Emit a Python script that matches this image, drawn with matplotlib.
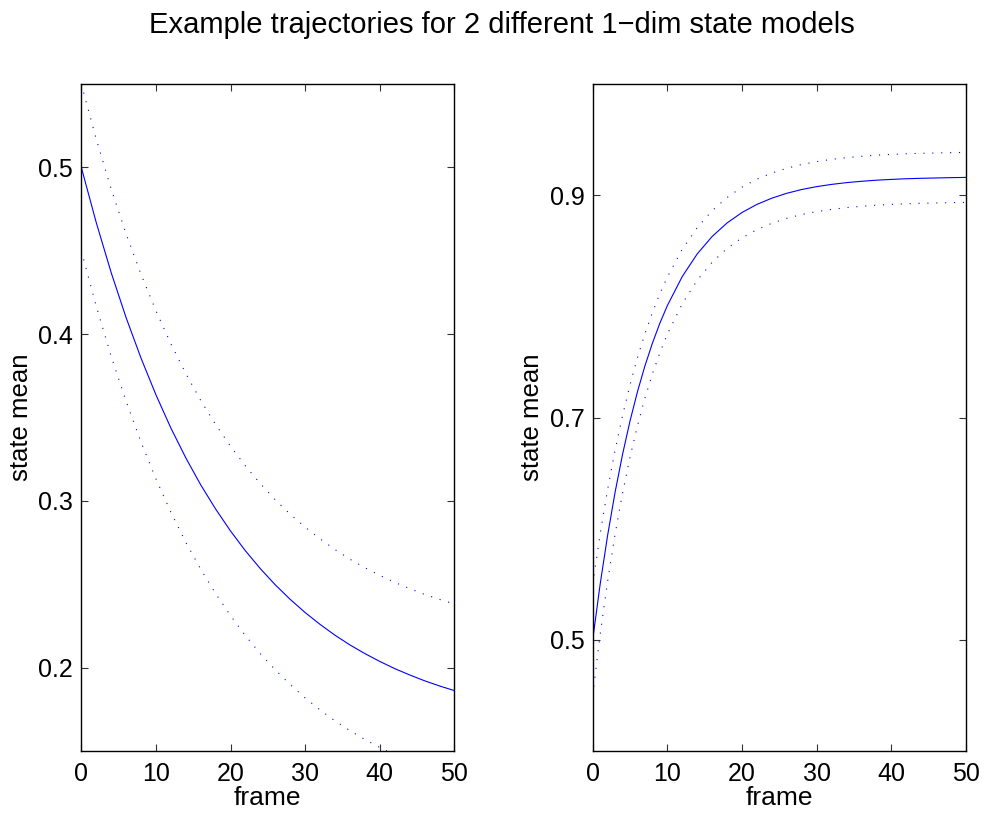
import numpy as np
import matplotlib
matplotlib.use("Agg")
import matplotlib.pyplot as plt

plt.rcParams['font.family'] = ['Liberation Sans', 'DejaVu Sans']

# ------------------- values -------------------

# left model (decaying state)
frames_left = [0, 2, 4, 6, 8, 10, 12, 14, 16, 18, 20, 22, 24, 26, 28, 30,
               32, 34, 36, 38, 40, 42, 44, 46, 48, 50]
mean_left = [0.5000, 0.4669, 0.4369, 0.4099, 0.3856, 0.3636, 0.3437, 0.3258,
             0.3096, 0.2951, 0.2819, 0.2700, 0.2593, 0.2496, 0.2409, 0.2330,
             0.2259, 0.2194, 0.2136, 0.2084, 0.2037, 0.1994, 0.1956, 0.1921,
             0.1890, 0.1862]
upper_left = [0.5500, 0.5170, 0.4871, 0.4601, 0.4359, 0.4140, 0.3942, 0.3764,
              0.3602, 0.3458, 0.3327, 0.3209, 0.3103, 0.3006, 0.2920, 0.2842,
              0.2772, 0.2708, 0.2650, 0.2599, 0.2553, 0.2511, 0.2474, 0.2439,
              0.2409, 0.2382]
lower_left = [0.4500, 0.4168, 0.3867, 0.3597, 0.3353, 0.3132, 0.2932, 0.2752,
              0.2590, 0.2444, 0.2311, 0.2191, 0.2083, 0.1986, 0.1898, 0.1818,
              0.1746, 0.1680, 0.1622, 0.1569, 0.1521, 0.1477, 0.1438, 0.1403,
              0.1371, 0.1342]

# right model (rising state)
frames_right = [0, 1, 2, 3, 4, 5, 6, 7, 8, 9, 10, 12, 14, 16, 18, 20, 22, 24,
                26, 28, 30, 32, 34, 36, 38, 40, 42, 44, 46, 48, 50]
mean_right = [0.5000, 0.5500, 0.5940, 0.6327, 0.6668, 0.6968, 0.7232, 0.7464,
              0.7668, 0.7848, 0.8006, 0.8268, 0.8471, 0.8628, 0.8750, 0.8844,
              0.8917, 0.8973, 0.9017, 0.9051, 0.9077, 0.9097, 0.9113, 0.9125,
              0.9135, 0.9142, 0.9148, 0.9152, 0.9155, 0.9158, 0.9160]
upper_right = [0.5500, 0.5953, 0.6353, 0.6705, 0.7018, 0.7294, 0.7538, 0.7754,
               0.7944, 0.8114, 0.8263, 0.8513, 0.8708, 0.8860, 0.8979, 0.9072,
               0.9144, 0.9199, 0.9242, 0.9276, 0.9302, 0.9322, 0.9338, 0.9350,
               0.9360, 0.9367, 0.9373, 0.9377, 0.9380, 0.9383, 0.9385]
lower_right = [0.4500, 0.5047, 0.5527, 0.5949, 0.6318, 0.6642, 0.6926, 0.7174,
               0.7392, 0.7582, 0.7749, 0.8023, 0.8234, 0.8396, 0.8521, 0.8616,
               0.8690, 0.8747, 0.8792, 0.8826, 0.8852, 0.8872, 0.8888, 0.8900,
               0.8910, 0.8917, 0.8923, 0.8927, 0.8930, 0.8933, 0.8935]

left_yticks = [0.2, 0.3, 0.4, 0.5]
right_yticks = [0.5, 0.7, 0.9]
xticks = [0, 10, 20, 30, 40, 50]

# ------------------- plotting -------------------

fig = plt.figure(figsize=(9.87, 8.16), dpi=100)
ax1 = fig.add_axes([0.0824, 0.0797, 0.378, 0.8173])
ax2 = fig.add_axes([0.6005, 0.0797, 0.378, 0.8173])

fig.suptitle("Example trajectories for 2 different 1\u2212dim state models",
             x=0.508, y=0.959, va="baseline", fontsize=21)

def draw_panel(ax, frames, mean, upper, lower, ylim, yticks):
    ax.plot(frames, mean, color="blue", linewidth=0.8)
    ax.plot(frames, upper, color="blue", linewidth=0.8, linestyle=(0, (1, 7)))
    ax.plot(frames, lower, color="blue", linewidth=0.8, linestyle=(0, (1, 7)))
    ax.set_xlim(0, 50)
    ax.set_ylim(*ylim)
    ax.set_xticks(xticks)
    ax.set_yticks(yticks)
    ax.set_yticklabels([f"{v:g}" for v in yticks])
    ax.tick_params(direction="in", length=5, width=0.8, labelsize=18,
                   top=True, right=True, pad=6, color="#333333")
    ax.tick_params(axis="x", pad=8)
    for s in ax.spines.values():
        s.set_linewidth(1.0)
    ax.set_xlabel("frame", fontsize=19, labelpad=0)
    ax.set_ylabel("state mean", fontsize=18.5, labelpad=4)

draw_panel(ax1, frames_left, mean_left, upper_left, lower_left, (0.15, 0.55), left_yticks)
draw_panel(ax2, frames_right, mean_right, upper_right, lower_right, (0.4, 1.0), right_yticks)

fig.savefig("out.png", dpi=100)
